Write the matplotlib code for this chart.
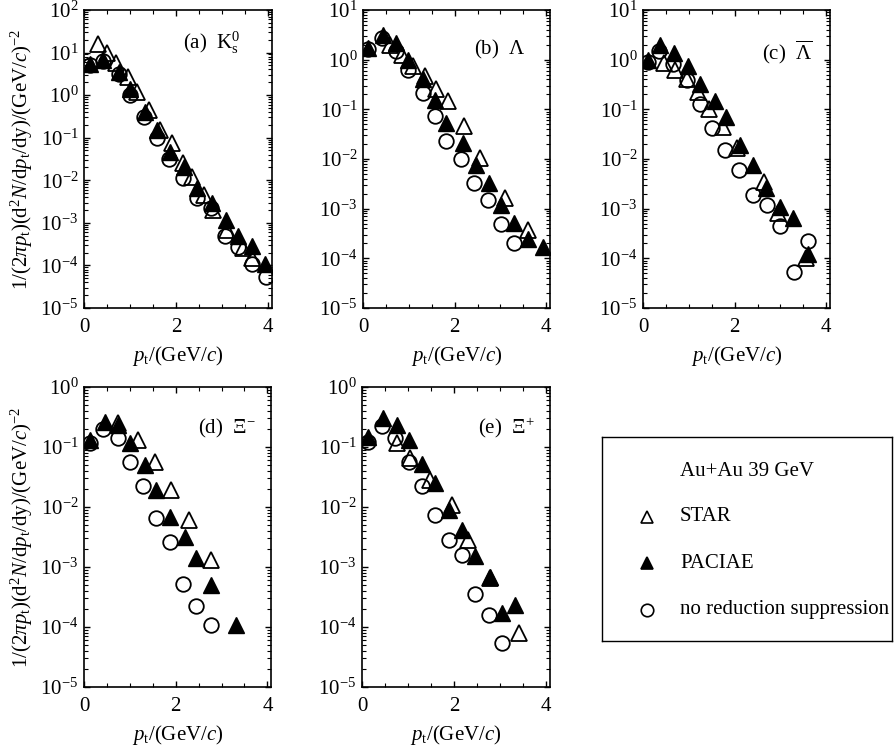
import matplotlib
matplotlib.use("Agg")
import matplotlib.pyplot as plt
from matplotlib.ticker import LogLocator, MultipleLocator, FixedLocator, NullFormatter

plt.rcParams["font.family"] = ["Liberation Serif", "DejaVu Serif"]
plt.rcParams["mathtext.fontset"] = "custom"
plt.rcParams["mathtext.rm"] = "Liberation Serif"
plt.rcParams["mathtext.it"] = "Liberation Serif:italic"
plt.rcParams["mathtext.bf"] = "Liberation Serif:bold"

# (a) K0s
ks_star_pt = [0.3, 0.5, 0.7, 0.95, 1.15, 1.4, 1.65, 1.9, 2.15, 2.35, 2.6, 2.8, 3.1, 3.45, 3.65]
ks_star_y = [16, 9.5, 5.6, 2.7, 1.2, 0.45, 0.15, 0.074, 0.025, 0.012, 4.5e-3, 2.0e-3, 6.8e-4, 2.5e-4, 1.5e-4]
ks_paciae_pt = [0.13, 0.42, 0.75, 1.0, 1.33, 1.58, 1.87, 2.16, 2.46, 2.78, 3.07, 3.35, 3.65, 3.93]
ks_paciae_y = [5.4, 6.5, 3.4, 1.37, 0.41, 0.15, 0.045, 0.02, 6.6e-3, 3.0e-3, 1.17e-3, 4.9e-4, 2.8e-4, 1.1e-4]
ks_nors_pt = [0.13, 0.42, 0.75, 1.0, 1.3, 1.58, 1.85, 2.15, 2.45, 2.75, 3.05, 3.35, 3.65, 3.95]
ks_nors_y = [5.1, 6.3, 3.2, 1.0, 0.31, 0.098, 0.031, 0.011, 3.8e-3, 2.2e-3, 4.9e-4, 2.7e-4, 1.1e-4, 5.4e-5]

# (b) Lambda
lam_star_pt = [0.6, 0.85, 1.1, 1.35, 1.6, 1.85, 2.2, 2.55, 3.1, 3.6]
lam_star_y = [2.0, 1.25, 0.74, 0.46, 0.26, 0.145, 0.046, 0.0105, 1.6e-3, 3.8e-4]
lam_paciae_pt = [0.1, 0.44, 0.73, 0.99, 1.31, 1.57, 1.82, 2.18, 2.47, 2.76, 3.01, 3.3, 3.59, 3.92]
lam_paciae_y = [1.72, 3.2, 2.2, 1.0, 0.40, 0.156, 0.053, 0.021, 7.7e-3, 3.3e-3, 1.2e-3, 5.1e-4, 2.4e-4, 1.7e-4]
lam_nors_pt = [0.1, 0.41, 0.73, 0.99, 1.31, 1.57, 1.82, 2.14, 2.43, 2.72, 3.01, 3.3]
lam_nors_y = [1.6, 2.7, 1.48, 0.63, 0.21, 0.072, 0.023, 9.8e-3, 3.3e-3, 1.5e-3, 4.8e-4, 2.0e-4]

# (c) anti-Lambda
alam_star_pt = [0.45, 0.7, 0.95, 1.2, 1.45, 1.75, 2.05, 2.65, 2.95, 3.55]
alam_star_y = [0.85, 0.62, 0.4, 0.22, 0.1, 0.045, 0.017, 3.5e-3, 8e-4, 1.0e-4]
alam_paciae_pt = [0.1, 0.37, 0.68, 0.98, 1.25, 1.57, 1.82, 2.11, 2.4, 2.69, 3.0, 3.27, 3.6]
alam_paciae_y = [1.0, 2.0, 1.34, 0.74, 0.33, 0.15, 0.071, 0.019, 7.6e-3, 2.6e-3, 1.1e-3, 6.5e-4, 1.2e-4]
alam_nors_pt = [0.1, 0.35, 0.65, 0.95, 1.25, 1.5, 1.8, 2.1, 2.4, 2.7, 3.0, 3.3, 3.6]
alam_nors_y = [0.9, 1.5, 0.8, 0.39, 0.13, 0.042, 0.015, 6e-3, 1.9e-3, 1.2e-3, 4.5e-4, 5.4e-5, 2.2e-4]

# (d) Xi-
xim_star_pt = [0.75, 1.18, 1.54, 1.9, 2.3, 2.78]
xim_star_y = [0.25, 0.13, 0.057, 0.019, 6e-3, 1.3e-3]
xim_paciae_pt = [0.13, 0.46, 0.75, 1.0, 1.33, 1.58, 1.87, 2.2, 2.45, 2.78, 3.32]
xim_paciae_y = [0.13, 0.26, 0.23, 0.115, 0.05, 0.019, 6.9e-3, 3.2e-3, 1.4e-3, 5e-4, 1.07e-4]
xim_nors_pt = [0.13, 0.42, 0.75, 1.0, 1.29, 1.58, 1.87, 2.16, 2.45, 2.78]
xim_nors_y = [0.115, 0.2, 0.14, 0.057, 0.022, 6.5e-3, 2.6e-3, 5.3e-4, 2.2e-4, 1.07e-4]

# (e) Xi+
xip_star_pt = [0.75, 1.04, 1.48, 1.95, 2.31, 2.78, 3.4]
xip_star_y = [0.115, 0.065, 0.028, 0.011, 2.8e-3, 6.5e-4, 7.9e-5]
xip_paciae_pt = [0.14, 0.46, 0.75, 1.01, 1.3, 1.59, 1.88, 2.17, 2.46, 2.78, 3.04, 3.33]
xip_paciae_y = [0.149, 0.30, 0.23, 0.13, 0.053, 0.025, 8.9e-3, 4.1e-3, 1.5e-3, 6.9e-4, 1.7e-4, 2.3e-4]
xip_nors_pt = [0.14, 0.43, 0.72, 1.01, 1.3, 1.59, 1.88, 2.17, 2.46, 2.75, 3.04]
xip_nors_y = [0.12, 0.22, 0.14, 0.057, 0.022, 7.4e-3, 2.8e-3, 1.6e-3, 3.6e-4, 1.6e-4, 5.4e-5]

panels = [
    ("(a)  K$_{\\rm s}^{0}$", ks_star_pt, ks_star_y, ks_paciae_pt, ks_paciae_y, ks_nors_pt, ks_nors_y),
    ("(b)  $\\Lambda$", lam_star_pt, lam_star_y, lam_paciae_pt, lam_paciae_y, lam_nors_pt, lam_nors_y),
    ("(c)  $\\overline{\\Lambda}$", alam_star_pt, alam_star_y, alam_paciae_pt, alam_paciae_y, alam_nors_pt, alam_nors_y),
    ("(d)  $\\Xi^{-}$", xim_star_pt, xim_star_y, xim_paciae_pt, xim_paciae_y, xim_nors_pt, xim_nors_y),
    ("(e)  $\\Xi^{+}$", xip_star_pt, xip_star_y, xip_paciae_pt, xip_paciae_y, xip_nors_pt, xip_nors_y),
]

rects = [
    [0.0940, 0.5910, 0.2103, 0.3958],
    [0.4060, 0.5910, 0.2092, 0.3958],
    [0.7192, 0.5910, 0.2092, 0.3958],
    [0.0940, 0.0876, 0.2092, 0.3984],
    [0.4049, 0.0876, 0.2103, 0.3984],
]
ylims = [(1e-5, 1e2), (1e-5, 1e1), (1e-5, 1e1), (1e-5, 1e0), (1e-5, 1e0)]
title_pos = [(0.527, 0.889), (0.594, 0.866), (0.636, 0.856), (0.61, 0.863), (0.617, 0.863)]

ylabel = r"$1/(2\pi p_{\rm t})(\mathrm{d}^2N/\mathrm{d}p_{\rm t}/\mathrm{dy})/(\mathrm{GeV}/c)^{-2}$"
xlabel = r"$p_{\rm t}/(\mathrm{GeV}/c)$"

fig = plt.figure(figsize=(8.94, 7.53), dpi=100)

for i, (title, s_pt, s_y, p_pt, p_y, n_pt, n_y) in enumerate(panels):
    ax = fig.add_axes(rects[i])
    ax.plot(s_pt, s_y, "^", ms=11, mfc="none", mec="black", mew=1.3, ls="none")
    ax.plot(n_pt, n_y, "o", ms=10.5, mfc="none", mec="black", mew=1.3, ls="none")
    ax.plot(p_pt, p_y, "^", ms=11, mfc="black", mec="black", mew=1.0, ls="none")
    ax.set_yscale("log")
    ax.set_ylim(*ylims[i])
    ax.set_xlim(0, 4.08)
    ax.xaxis.set_major_locator(FixedLocator([0, 2, 4]))
    ax.xaxis.set_minor_locator(MultipleLocator(0.5))
    ax.yaxis.set_major_locator(LogLocator(base=10, numticks=15))
    ax.yaxis.set_minor_locator(LogLocator(base=10, subs=range(2, 10), numticks=15))
    ax.yaxis.set_minor_formatter(NullFormatter())
    ax.tick_params(which="both", direction="in", top=True, right=True, labelsize=15)
    ax.tick_params(which="major", length=4.5, width=1.0)
    ax.tick_params(which="minor", length=3, width=0.8)
    ax.tick_params(axis="x", pad=7)
    ax.tick_params(axis="y", pad=4)
    for sp in ax.spines.values():
        sp.set_linewidth(1.2)
    ax.set_xlabel(xlabel, fontsize=15, labelpad=5)
    if i in (0, 3):
        ax.set_ylabel(ylabel, fontsize=15, labelpad=4)
    ax.text(title_pos[i][0], title_pos[i][1], title, transform=ax.transAxes,
            fontsize=15, ha="left", va="center")

# legend box
lg = fig.add_axes([602 / 894, (753 - 641) / 753, 290 / 894, 204 / 753])
lg.set_xlim(0, 1)
lg.set_ylim(0, 1)
lg.set_xticks([])
lg.set_yticks([])
for sp in lg.spines.values():
    sp.set_linewidth(1.0)
lg.text(0.269, 0.833, "Au+Au 39 GeV", fontsize=15, ha="left", va="center")
rows = [("STAR", "^", "none"), ("PACIAE", "^", "black"), ("no reduction suppression", "o", "none")]
row_y = [0.608, 0.382, 0.152]
for (label, mk, fc), yy in zip(rows, row_y):
    lg.plot([0.155], [yy], mk, ms=9, mfc=fc, mec="black", mew=1.2)
    lg.text(0.269, yy, label, fontsize=15, ha="left", va="center", clip_on=False)

fig.savefig("out.png", dpi=100)
